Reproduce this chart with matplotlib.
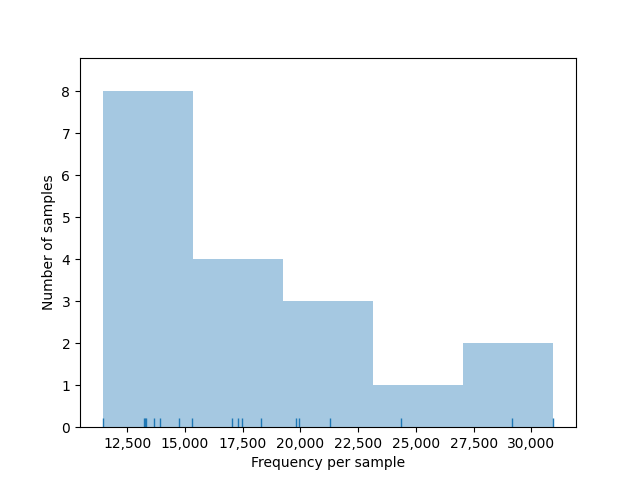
import matplotlib
matplotlib.use("Agg")
import matplotlib.pyplot as plt
from matplotlib.ticker import StrMethodFormatter
import numpy as np

frequencies = [11428, 13208, 13281, 13325, 13643, 13903, 14727, 15291,
               17027, 17304, 17461, 18286,
               19822, 19922, 21281,
               24362,
               29180, 30960]
n_bins = 5

fig, ax = plt.subplots(figsize=(6.4, 4.8), dpi=100)
counts, edges, _ = ax.hist(frequencies, bins=n_bins, color="C0", alpha=0.4)
# rug
ax.vlines(frequencies, 0, 0.025, transform=ax.get_xaxis_transform(), color="C0", lw=1)
ax.set_ylim(0, counts.max() * 1.1)
ax.xaxis.set_major_formatter(StrMethodFormatter("{x:,.0f}"))
ax.set_xlabel("Frequency per sample")
ax.set_ylabel("Number of samples")
fig.savefig("out.png", dpi=100)
